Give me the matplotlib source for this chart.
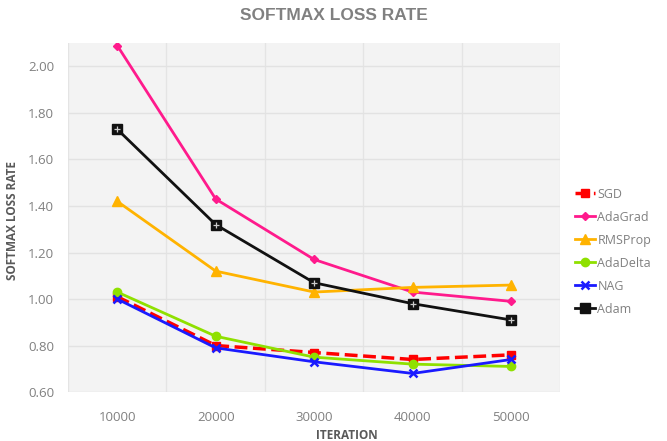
import matplotlib
matplotlib.use('Agg')
import matplotlib.pyplot as plt
import numpy as np

iterations = ['10000', '20000', '30000', '40000', '50000']
sgd = [1.01, 0.80, 0.77, 0.74, 0.76]
adagrad = [2.09, 1.43, 1.17, 1.03, 0.99]
rmsprop = [1.42, 1.12, 1.03, 1.05, 1.06]
adadelta = [1.03, 0.84, 0.75, 0.72, 0.71]
nag = [1.00, 0.79, 0.73, 0.68, 0.74]
adam = [1.73, 1.32, 1.07, 0.98, 0.91]

plt.rcParams['font.family'] = ['Open Sans', 'DejaVu Sans']

fig = plt.figure(figsize=(6.67, 4.41), dpi=100)
ax = fig.add_axes([0.102, 0.111, 0.738, 0.791])
ax.set_facecolor('#f3f3f3')

x = np.arange(1, len(iterations) + 1)
ax.plot(x, sgd, color='#ff0000', ls='--', lw=2.5, marker='s', ms=6, label='SGD', zorder=3)
ax.plot(x, adagrad, color='#ff1a8c', lw=2, marker='D', ms=4.5, label='AdaGrad', zorder=3)
ax.plot(x, rmsprop, color='#ffb300', lw=2, marker='^', ms=7, label='RMSProp', zorder=3)
ax.plot(x, adadelta, color='#8fe000', lw=2, marker='o', ms=6, label='AdaDelta', zorder=3)
ax.plot(x, nag, color='#1a1aff', lw=2, marker='x', ms=6, mew=1.8, label='NAG', zorder=4)
ax.plot(x, adam, color='#111111', lw=2, marker='s', ms=6.5, mfc='#111111', label='Adam', zorder=3)
ax.plot(x, adam, ls='none', marker='+', ms=5, mew=0.9, color='#cccccc', zorder=4)

ax.set_xlim(0.5, 5.5)
ax.set_ylim(0.6, 2.1)
ax.set_xticks(x)
ax.set_xticklabels(iterations)
ax.set_xticks(np.arange(0.5, 5.6, 0.5), minor=True)
ax.set_yticks(np.arange(0.6, 2.01, 0.2))
ax.set_yticklabels([f'{v:.2f}' for v in np.arange(0.6, 2.01, 0.2)])
ax.grid(True, which='major', axis='y', color='#e2e2e2', lw=1)
ax.grid(True, which='minor', axis='x', color='#e4e4e4', lw=1)
ax.tick_params(which='both', length=0, colors='#808080', labelsize=9.5)
ax.tick_params(axis='x', pad=14)
ax.tick_params(axis='y', pad=10)
for s in ax.spines.values():
    s.set_visible(False)

fig.text(0.5, 0.965, 'SOFTMAX LOSS RATE', ha='center', va='center',
         fontsize=12.5, fontweight='bold', color='#808080', family=['Liberation Sans', 'DejaVu Sans'])
fig.text(0.018, 0.5, 'SOFTMAX LOSS RATE', ha='center', va='center', rotation=90,
         fontsize=8.5, fontweight='bold', color='#595959')
fig.text(0.52, 0.013, 'ITERATION', ha='center', va='center',
         fontsize=8.5, fontweight='bold', color='#595959')

leg = fig.legend(loc='upper left', bbox_to_anchor=(0.845, 0.6), frameon=False,
                 fontsize=9, handlelength=1.6, handletextpad=0.2, labelspacing=0.8)
for t in leg.get_texts():
    t.set_color('#808080')

fig.savefig('out.png', dpi=100)
